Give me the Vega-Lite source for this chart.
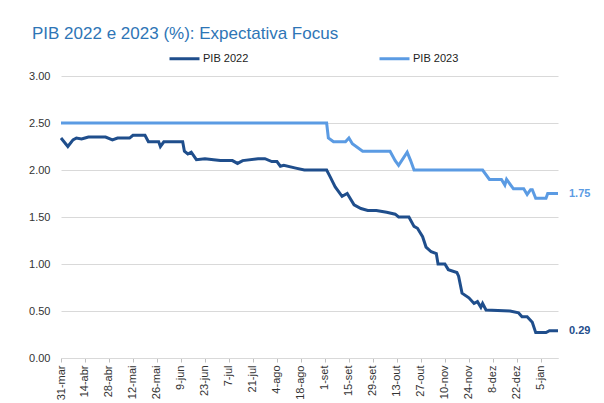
{
  "$schema": "https://vega.github.io/schema/vega-lite/v6.json",
  "width": 497,
  "height": 282,
  "autosize": {"type": "none"},
  "padding": {"left": 61, "top": 76, "right": 46, "bottom": 45},
  "background": "white",
  "title": {
    "text": "PIB 2022 e 2023 (%): Expectativa Focus",
    "anchor": "start",
    "frame": "group",
    "dx": -29,
    "offset": -1,
    "fontSize": 17,
    "font": "Liberation Sans",
    "fontWeight": "normal",
    "color": "#2E75B6"
  },
  "config": {
    "view": {"stroke": null},
    "font": "Liberation Sans"
  },
  "data": {
    "values": [
      {"date": "2021-03-31", "serie": "PIB 2022", "value": 2.34},
      {"date": "2021-04-04", "serie": "PIB 2022", "value": 2.25},
      {"date": "2021-04-07", "serie": "PIB 2022", "value": 2.32},
      {"date": "2021-04-09", "serie": "PIB 2022", "value": 2.34},
      {"date": "2021-04-12", "serie": "PIB 2022", "value": 2.33},
      {"date": "2021-04-14", "serie": "PIB 2022", "value": 2.34},
      {"date": "2021-04-16", "serie": "PIB 2022", "value": 2.35},
      {"date": "2021-04-26", "serie": "PIB 2022", "value": 2.35},
      {"date": "2021-04-30", "serie": "PIB 2022", "value": 2.32},
      {"date": "2021-05-03", "serie": "PIB 2022", "value": 2.34},
      {"date": "2021-05-10", "serie": "PIB 2022", "value": 2.34},
      {"date": "2021-05-12", "serie": "PIB 2022", "value": 2.37},
      {"date": "2021-05-19", "serie": "PIB 2022", "value": 2.37},
      {"date": "2021-05-21", "serie": "PIB 2022", "value": 2.30},
      {"date": "2021-05-27", "serie": "PIB 2022", "value": 2.30},
      {"date": "2021-05-28", "serie": "PIB 2022", "value": 2.25},
      {"date": "2021-05-30", "serie": "PIB 2022", "value": 2.30},
      {"date": "2021-06-10", "serie": "PIB 2022", "value": 2.30},
      {"date": "2021-06-11", "serie": "PIB 2022", "value": 2.20},
      {"date": "2021-06-13", "serie": "PIB 2022", "value": 2.17},
      {"date": "2021-06-15", "serie": "PIB 2022", "value": 2.19},
      {"date": "2021-06-18", "serie": "PIB 2022", "value": 2.11},
      {"date": "2021-06-23", "serie": "PIB 2022", "value": 2.12},
      {"date": "2021-06-28", "serie": "PIB 2022", "value": 2.11},
      {"date": "2021-07-02", "serie": "PIB 2022", "value": 2.10},
      {"date": "2021-07-09", "serie": "PIB 2022", "value": 2.10},
      {"date": "2021-07-12", "serie": "PIB 2022", "value": 2.07},
      {"date": "2021-07-15", "serie": "PIB 2022", "value": 2.10},
      {"date": "2021-07-24", "serie": "PIB 2022", "value": 2.12},
      {"date": "2021-07-28", "serie": "PIB 2022", "value": 2.12},
      {"date": "2021-08-01", "serie": "PIB 2022", "value": 2.09},
      {"date": "2021-08-04", "serie": "PIB 2022", "value": 2.09},
      {"date": "2021-08-06", "serie": "PIB 2022", "value": 2.04},
      {"date": "2021-08-08", "serie": "PIB 2022", "value": 2.05},
      {"date": "2021-08-15", "serie": "PIB 2022", "value": 2.02},
      {"date": "2021-08-20", "serie": "PIB 2022", "value": 2.00},
      {"date": "2021-09-02", "serie": "PIB 2022", "value": 2.00},
      {"date": "2021-09-04", "serie": "PIB 2022", "value": 1.93},
      {"date": "2021-09-07", "serie": "PIB 2022", "value": 1.82},
      {"date": "2021-09-11", "serie": "PIB 2022", "value": 1.72},
      {"date": "2021-09-14", "serie": "PIB 2022", "value": 1.75},
      {"date": "2021-09-18", "serie": "PIB 2022", "value": 1.63},
      {"date": "2021-09-22", "serie": "PIB 2022", "value": 1.59},
      {"date": "2021-09-26", "serie": "PIB 2022", "value": 1.57},
      {"date": "2021-10-01", "serie": "PIB 2022", "value": 1.57},
      {"date": "2021-10-07", "serie": "PIB 2022", "value": 1.55},
      {"date": "2021-10-12", "serie": "PIB 2022", "value": 1.53},
      {"date": "2021-10-14", "serie": "PIB 2022", "value": 1.50},
      {"date": "2021-10-20", "serie": "PIB 2022", "value": 1.50},
      {"date": "2021-10-23", "serie": "PIB 2022", "value": 1.40},
      {"date": "2021-10-25", "serie": "PIB 2022", "value": 1.38},
      {"date": "2021-10-28", "serie": "PIB 2022", "value": 1.29},
      {"date": "2021-10-30", "serie": "PIB 2022", "value": 1.18},
      {"date": "2021-11-02", "serie": "PIB 2022", "value": 1.13},
      {"date": "2021-11-05", "serie": "PIB 2022", "value": 1.11},
      {"date": "2021-11-06", "serie": "PIB 2022", "value": 1.00},
      {"date": "2021-11-10", "serie": "PIB 2022", "value": 1.00},
      {"date": "2021-11-12", "serie": "PIB 2022", "value": 0.94},
      {"date": "2021-11-17", "serie": "PIB 2022", "value": 0.91},
      {"date": "2021-11-18", "serie": "PIB 2022", "value": 0.87},
      {"date": "2021-11-20", "serie": "PIB 2022", "value": 0.69},
      {"date": "2021-11-24", "serie": "PIB 2022", "value": 0.64},
      {"date": "2021-11-27", "serie": "PIB 2022", "value": 0.58},
      {"date": "2021-11-29", "serie": "PIB 2022", "value": 0.60},
      {"date": "2021-12-01", "serie": "PIB 2022", "value": 0.54},
      {"date": "2021-12-02", "serie": "PIB 2022", "value": 0.58},
      {"date": "2021-12-04", "serie": "PIB 2022", "value": 0.51},
      {"date": "2021-12-18", "serie": "PIB 2022", "value": 0.50},
      {"date": "2021-12-23", "serie": "PIB 2022", "value": 0.48},
      {"date": "2021-12-25", "serie": "PIB 2022", "value": 0.44},
      {"date": "2021-12-28", "serie": "PIB 2022", "value": 0.44},
      {"date": "2021-12-31", "serie": "PIB 2022", "value": 0.38},
      {"date": "2022-01-02", "serie": "PIB 2022", "value": 0.27},
      {"date": "2022-01-08", "serie": "PIB 2022", "value": 0.27},
      {"date": "2022-01-10", "serie": "PIB 2022", "value": 0.29},
      {"date": "2022-01-15", "serie": "PIB 2022", "value": 0.29},
      {"date": "2021-03-31", "serie": "PIB 2023", "value": 2.50},
      {"date": "2021-09-02", "serie": "PIB 2023", "value": 2.50},
      {"date": "2021-09-03", "serie": "PIB 2023", "value": 2.34},
      {"date": "2021-09-06", "serie": "PIB 2023", "value": 2.30},
      {"date": "2021-09-13", "serie": "PIB 2023", "value": 2.30},
      {"date": "2021-09-15", "serie": "PIB 2023", "value": 2.34},
      {"date": "2021-09-17", "serie": "PIB 2023", "value": 2.28},
      {"date": "2021-09-23", "serie": "PIB 2023", "value": 2.20},
      {"date": "2021-10-09", "serie": "PIB 2023", "value": 2.20},
      {"date": "2021-10-12", "serie": "PIB 2023", "value": 2.10},
      {"date": "2021-10-14", "serie": "PIB 2023", "value": 2.05},
      {"date": "2021-10-19", "serie": "PIB 2023", "value": 2.19},
      {"date": "2021-10-21", "serie": "PIB 2023", "value": 2.10},
      {"date": "2021-10-23", "serie": "PIB 2023", "value": 2.00},
      {"date": "2021-12-02", "serie": "PIB 2023", "value": 2.00},
      {"date": "2021-12-06", "serie": "PIB 2023", "value": 1.90},
      {"date": "2021-12-13", "serie": "PIB 2023", "value": 1.90},
      {"date": "2021-12-15", "serie": "PIB 2023", "value": 1.84},
      {"date": "2021-12-16", "serie": "PIB 2023", "value": 1.90},
      {"date": "2021-12-20", "serie": "PIB 2023", "value": 1.80},
      {"date": "2021-12-26", "serie": "PIB 2023", "value": 1.80},
      {"date": "2021-12-28", "serie": "PIB 2023", "value": 1.74},
      {"date": "2021-12-30", "serie": "PIB 2023", "value": 1.79},
      {"date": "2021-12-31", "serie": "PIB 2023", "value": 1.79},
      {"date": "2022-01-02", "serie": "PIB 2023", "value": 1.70},
      {"date": "2022-01-08", "serie": "PIB 2023", "value": 1.70},
      {"date": "2022-01-09", "serie": "PIB 2023", "value": 1.75},
      {"date": "2022-01-15", "serie": "PIB 2023", "value": 1.75}
    ]
  },
  "encoding": {
    "x": {
      "field": "date",
      "type": "temporal",
      "scale": {
        "type": "utc",
        "domain": [
          {"year": 2021, "month": 3, "date": 31, "utc": true},
          {"year": 2022, "month": 1, "date": 15, "utc": true}
        ]
      },
      "axis": {
        "title": null,
        "grid": false,
        "values": [
          {"year": 2021, "month": 3, "date": 31, "utc": true},
          {"year": 2021, "month": 4, "date": 14, "utc": true},
          {"year": 2021, "month": 4, "date": 28, "utc": true},
          {"year": 2021, "month": 5, "date": 12, "utc": true},
          {"year": 2021, "month": 5, "date": 26, "utc": true},
          {"year": 2021, "month": 6, "date": 9, "utc": true},
          {"year": 2021, "month": 6, "date": 23, "utc": true},
          {"year": 2021, "month": 7, "date": 7, "utc": true},
          {"year": 2021, "month": 7, "date": 21, "utc": true},
          {"year": 2021, "month": 8, "date": 4, "utc": true},
          {"year": 2021, "month": 8, "date": 18, "utc": true},
          {"year": 2021, "month": 9, "date": 1, "utc": true},
          {"year": 2021, "month": 9, "date": 15, "utc": true},
          {"year": 2021, "month": 9, "date": 29, "utc": true},
          {"year": 2021, "month": 10, "date": 13, "utc": true},
          {"year": 2021, "month": 10, "date": 27, "utc": true},
          {"year": 2021, "month": 11, "date": 10, "utc": true},
          {"year": 2021, "month": 11, "date": 24, "utc": true},
          {"year": 2021, "month": 12, "date": 8, "utc": true},
          {"year": 2021, "month": 12, "date": 22, "utc": true},
          {"year": 2022, "month": 1, "date": 5, "utc": true}
        ],
        "labelExpr": "utcdate(datum.value) + '-' + ['jan','fev','mar','abr','mai','jun','jul','ago','set','out','nov','dez'][utcmonth(datum.value)]",
        "labelAngle": -90,
        "labelFontSize": 11,
        "labelColor": "#333333",
        "labelPadding": 3,
        "labelFlush": false,
        "labelOverlap": false,
        "domainColor": "#d9d9d9",
        "domainWidth": 1,
        "tickColor": "#bfbfbf",
        "tickSize": 4
      }
    },
    "y": {
      "field": "value",
      "type": "quantitative",
      "scale": {"domain": [0, 3], "nice": false, "zero": true},
      "axis": {
        "title": null,
        "values": [0, 0.5, 1, 1.5, 2, 2.5, 3],
        "format": ".2f",
        "domain": false,
        "ticks": false,
        "labelPadding": 11,
        "labelFontSize": 11,
        "labelColor": "#333333",
        "gridColor": "#d9d9d9",
        "gridWidth": 1
      }
    }
  },
  "layer": [
    {
      "mark": {"type": "line", "strokeWidth": 3, "interpolate": "linear"},
      "encoding": {
        "color": {
          "field": "serie",
          "type": "nominal",
          "scale": {"domain": ["PIB 2022", "PIB 2023"], "range": ["#1F4E8C", "#5B9BE3"]},
          "legend": {
            "title": null,
            "orient": "none",
            "direction": "horizontal",
            "legendX": 107,
            "legendY": -34,
            "padding": 0,
            "symbolType": "stroke",
            "symbolSize": 900,
            "symbolStrokeWidth": 3,
            "labelFontSize": 11,
            "labelColor": "#222222",
            "labelOffset": 2,
            "columnPadding": 124
          }
        }
      }
    },
    {
      "transform": [{"filter": "datum.serie == 'PIB 2022' && time(datum.date) == utc(2022,0,15)"}],
      "mark": {"type": "text", "align": "left", "dx": 11, "fontWeight": "bold", "fontSize": 11, "color": "#1F4E8C"},
      "encoding": {"text": {"field": "value", "type": "quantitative", "format": ".2f"}}
    },
    {
      "transform": [{"filter": "datum.serie == 'PIB 2023' && time(datum.date) == utc(2022,0,15)"}],
      "mark": {"type": "text", "align": "left", "dx": 11, "fontWeight": "bold", "fontSize": 11, "color": "#5B9BE3"},
      "encoding": {"text": {"field": "value", "type": "quantitative", "format": ".2f"}}
    }
  ]
}
